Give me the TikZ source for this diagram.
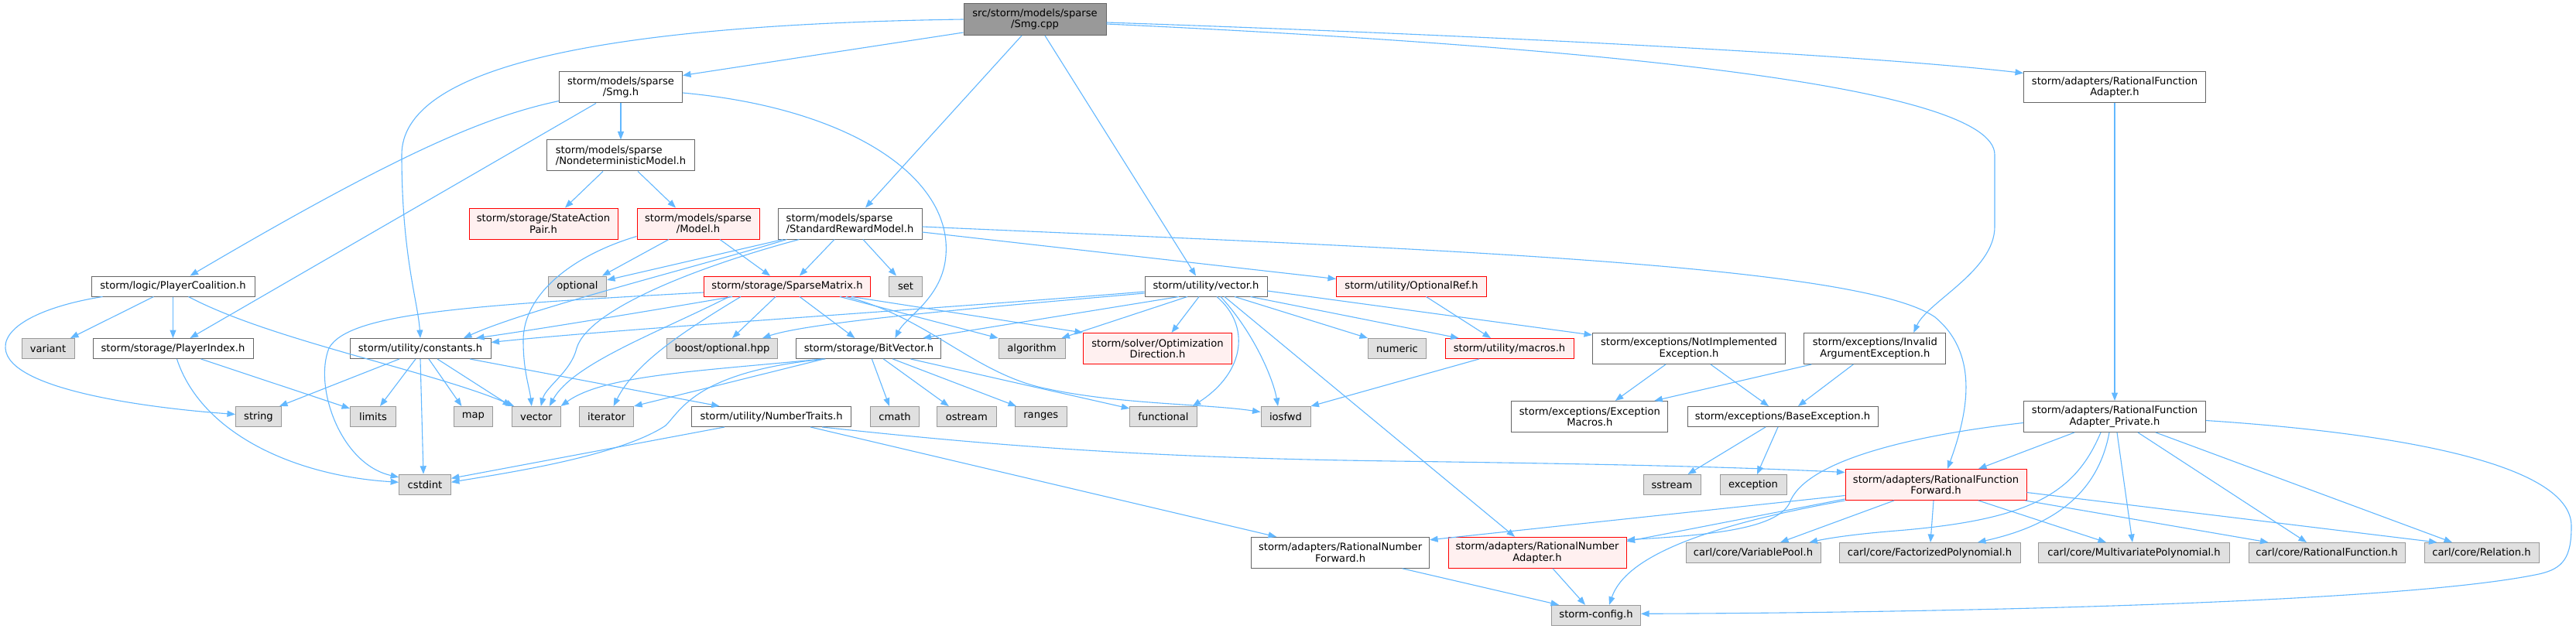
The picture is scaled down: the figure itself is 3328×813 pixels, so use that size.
\documentclass[tikz,border=0pt]{standalone}
\usepackage{fontspec}
\setmainfont{DejaVu Sans}
\usetikzlibrary{arrows.meta,calc}
\definecolor{edgeblue}{HTML}{63B8FF}
\definecolor{bordgray}{HTML}{666666}
\definecolor{extfill}{HTML}{E0E0E0}
\definecolor{extbord}{HTML}{999999}
\definecolor{redfill}{HTML}{FFF0F0}
\definecolor{rootfill}{HTML}{999999}
\begin{document}
\begin{tikzpicture}[x=1pt,y=-1pt,
  box/.style={draw, line width=1pt, inner xsep=3pt, inner ysep=2pt, minimum height=26pt,
    font=\fontsize{13.1}{14.6}\selectfont, align=center, text=black},
  nwhite/.style={box, fill=white, draw=bordgray},
  nred/.style={box, fill=redfill, draw=red},
  ngray/.style={box, fill=extfill, draw=extbord},
  nroot/.style={box, fill=rootfill, draw=bordgray},
  twol/.style={minimum height=40pt},
  dep/.style={draw=edgeblue, line width=1.1pt, -{Triangle[length=10.5pt,width=8pt]}}
]
\useasboundingbox (0,0) rectangle (3328,813);
\fill[white] (0,0) rectangle (3328,813);

% nodes
\node[nroot, twol, minimum width=184pt, minimum height=41pt] (root) at (1337,25) {src/storm/models/sparse\\/Smg.cpp};
\node[nwhite, twol, minimum width=159pt] (smgh) at (802,113) {storm/models/sparse\\/Smg.h};
\node[nwhite, twol, minimum width=235pt] (rfa) at (2732,113) {storm/adapters/RationalFunction\\Adapter.h};
\node[nwhite, twol, minimum width=191pt, align=left] (ndm) at (802,201) {storm/models/sparse\\/NondeterministicModel.h};
\node[nred, twol, minimum width=192pt] (sap) at (702,289) {storm/storage/StateAction\\Pair.h};
\node[nred, twol, minimum width=158pt] (model) at (902,289) {storm/models/sparse\\/Model.h};
\node[nwhite, twol, minimum width=186pt, align=left] (srm) at (1098,289) {storm/models/sparse\\/StandardRewardModel.h};

\node[nwhite, minimum width=211pt] (pc) at (223.5,370) {storm/logic/PlayerCoalition.h};
\node[ngray, minimum width=75pt] (optional) at (746,370) {optional};
\node[nred, minimum width=215pt] (sm) at (1017,370) {storm/storage/SparseMatrix.h};
\node[ngray, minimum width=43pt] (set) at (1170,370) {set};
\node[nwhite, minimum width=158pt] (vech) at (1558,370) {storm/utility/vector.h};
\node[nred, minimum width=194pt] (oref) at (1823.5,370) {storm/utility/OptionalRef.h};

\node[ngray, minimum width=68pt] (variant) at (62,450.5) {variant};
\node[nwhite, minimum width=207pt] (pi) at (223.5,450.5) {storm/storage/PlayerIndex.h};
\node[nwhite, minimum width=182pt] (const) at (543,450.5) {storm/utility/constants.h};
\node[ngray, minimum width=143pt] (boostopt) at (933,450.5) {boost/optional.hpp};
\node[nwhite, minimum width=187pt] (bv) at (1122.4,450.5) {storm/storage/BitVector.h};
\node[ngray, minimum width=86pt] (algorithm) at (1333,450.5) {algorithm};
\node[nred, twol, minimum width=192pt] (optdir) at (1495.5,450.5) {storm/solver/Optimization\\Direction.h};
\node[ngray, minimum width=75pt] (numeric) at (1805,450.5) {numeric};
\node[nred, minimum width=166pt] (macros) at (1950,450.5) {storm/utility/macros.h};
\node[nwhite, twol, minimum width=249pt] (nie) at (2182,450.5) {storm/exceptions/NotImplemented\\Exception.h};
\node[nwhite, twol, minimum width=183pt] (iae) at (2422.3,450.5) {storm/exceptions/Invalid\\ArgumentException.h};

\node[ngray, minimum width=59pt] (string) at (334,538.5) {string};
\node[ngray, minimum width=59pt] (limits) at (482,538.5) {limits};
\node[ngray, minimum width=50pt] (map) at (611.4,538.5) {map};
\node[ngray, minimum width=62.5pt] (vector) at (692.8,538.5) {vector};
\node[ngray, minimum width=70pt] (iterator) at (783.6,538.5) {iterator};
\node[nwhite, minimum width=206pt] (nt) at (996.6,538.5) {storm/utility/NumberTraits.h};
\node[ngray, minimum width=62.7pt] (cmath) at (1156,538.5) {cmath};
\node[ngray, minimum width=76.5pt] (ostream) at (1248.8,538.5) {ostream};
\node[ngray, minimum width=66.6pt] (ranges) at (1344.8,538.5) {ranges};
\node[ngray, minimum width=86.5pt] (functional) at (1503,538.5) {functional};
\node[ngray, minimum width=64pt] (iosfwd) at (1661,538.5) {iosfwd};
\node[nwhite, twol, minimum width=202pt] (em) at (2053.8,538.5) {storm/exceptions/Exception\\Macros.h};
\node[nwhite, minimum width=246pt] (be) at (2303,538.5) {storm/exceptions/BaseException.h};
\node[nwhite, twol, minimum width=235pt] (rfap) at (2732,538.5) {storm/adapters/RationalFunction\\Adapter\_Private.h};

\node[ngray, minimum width=66.7pt] (cstdint) at (549,626.3) {cstdint};
\node[ngray, minimum width=74pt] (sstream) at (2160,626.5) {sstream};
\node[ngray, minimum width=86pt] (exception) at (2265,626.5) {exception};
\node[nred, twol, minimum width=234pt] (rff) at (2501,626.5) {storm/adapters/RationalFunction\\Forward.h};

\node[nwhite, twol, minimum width=230pt] (rnf) at (1731.6,714.3) {storm/adapters/RationalNumber\\Forward.h};
\node[nred, twol, minimum width=230pt] (rna) at (1986,714.3) {storm/adapters/RationalNumber\\Adapter.h};
\node[ngray, minimum width=174pt] (vp) at (2265,714.5) {carl/core/VariablePool.h};
\node[ngray, minimum width=234pt] (fp) at (2493,714.5) {carl/core/FactorizedPolynomial.h};
\node[ngray, minimum width=246.5pt] (mp) at (2757,714.5) {carl/core/MultivariatePolynomial.h};
\node[ngray, minimum width=202pt] (rf) at (3006,714.5) {carl/core/RationalFunction.h};
\node[ngray, minimum width=148pt] (rel) at (3206,714.5) {carl/core/Relation.h};

\node[ngray, minimum width=115pt] (scfg) at (2062,795.3) {storm-config.h};

% edges from root
\draw[dep] ($(root.south west)+(0,-4)$) -- ($(smgh.north east)+(0,5)$);
\draw[dep] (root.west) .. controls (760,32) and (519,90) .. (519,200) .. controls (519,330) and (540,390) .. (const.north);
\draw[dep] ($(root.south)+(-17,0)$) -- ($(srm.north)+(20,0)$);
\draw[dep] ($(root.south)+(13,0)$) -- ($(vech.north)+(-13,0)$);
\draw[dep] ($(root.east)+(0,4)$) .. controls (1900,45) and (2400,70) .. ($(rfa.north west)+(0,2)$);
\draw[dep] ($(root.east)+(0,6)$) .. controls (2050,60) and (2577,110) .. (2577,200) -- (2577,293) .. controls (2577,350) and (2490,390) .. ($(iae.north)+(50,0)$);

% Smg.h
\draw[dep] (smgh) -- (ndm);
\draw[dep] ($(smgh.south west)+(0,-3)$) .. controls (630,150) and (520,195) .. ($(pc.north)+(22,0)$);
\draw[dep] ($(smgh.south)+(-32,0)$) -- ($(pi.north)+(22,0)$);
\draw[dep] ($(smgh.east)+(0,7)$) .. controls (1100,140) and (1230,230) .. (1222,330) .. controls (1218,385) and (1170,410) .. ($(bv.north)+(34,0)$);

% NondeterministicModel
\draw[dep] ($(ndm.south)+(-23,0)$) -- ($(sap.north)+(28,0)$);
\draw[dep] ($(ndm.south)+(22,0)$) -- ($(model.north)+(-29,0)$);

% Model
\draw[dep] ($(model.south)+(-38,0)$) -- ($(optional.north east)+(-6,0)$);
\draw[dep] ($(model.south)+(28,0)$) -- ($(sm.north)+(-22,0)$);
\draw[dep] ($(model.south west)+(0,-4)$) .. controls (740,330) and (676,380) .. (676,440) .. controls (676,480) and (684,500) .. ($(vector.north)+(-6,0)$);

% StandardRewardModel
\draw[dep] ($(srm.south west)+(7,0)$) -- ($(optional.east)+(0,-8)$);
\draw[dep] ($(srm.south west)+(12,0)$) .. controls (900,345) and (680,400) .. ($(const.north)+(56,0)$);
\draw[dep] ($(srm.south west)+(28,0)$) .. controls (900,345) and (760,400) .. (745,450) .. controls (738,480) and (705,500) .. ($(vector.north)+(6,0)$);
\draw[dep] ($(srm.south)+(-20,0)$) -- ($(sm.north)+(16,0)$);
\draw[dep] ($(srm.south)+(17,0)$) -- ($(set.north)+(-12,0)$);
\draw[dep] ($(srm.east)+(0,11)$) -- ($(oref.north west)+(0,4)$);
\draw[dep] ($(srm.east)+(0,4)$) .. controls (1800,320) and (2400,340) .. (2500,410) .. controls (2560,460) and (2540,540) .. ($(rff.north)+(15,0)$);

% PlayerCoalition
\draw[dep] ($(pc.south)+(-25,0)$) -- ($(variant.north)+(29,0)$);
\draw[dep] (pc) -- (pi);
\draw[dep] ($(pc.south west)+(15,0)$) .. controls (60,395) and (5,420) .. (7,450) .. controls (10,505) and (200,528) .. ($(string.west)+(0,-3)$);
\draw[dep] ($(pc.south)+(20,0)$) .. controls (350,440) and (560,480) .. ($(vector.north west)+(3,0)$);

% PlayerIndex
\draw[dep] ($(pi.south)+(36,0)$) -- ($(limits.north west)+(0,3)$);
\draw[dep] ($(pi.south)+(5,0)$) .. controls (260,560) and (380,615) .. ($(cstdint.west)+(0,-3)$);

% constants
\draw[dep] ($(const.south)+(-27,0)$) -- ($(string.north east)+(-3,0)$);
\draw[dep] ($(const.south)+(-6,0)$) -- ($(limits.north)+(9,0)$);
\draw[dep] (const.south) -- ($(cstdint.north)+(-2,0)$);
\draw[dep] ($(const.south)+(11,0)$) -- ($(map.north)+(-15,0)$);
\draw[dep] ($(const.south)+(22,0)$) -- ($(vector.north west)+(-1,0)$);
\draw[dep] ($(const.south)+(64,0)$) -- ($(nt.north)+(-67,0)$);

% SparseMatrix
\draw[dep] ($(sm.south)+(-71,0)$) .. controls (850,400) and (700,425) .. ($(const.north)+(72,0)$);
\draw[dep] ($(sm.west)+(0,8)$) .. controls (600,395) and (450,405) .. (425,450) .. controls (405,500) and (440,600) .. ($(cstdint.north west)+(0,4)$);
\draw[dep] ($(sm.south)+(-75,0)$) .. controls (850,430) and (740,470) .. ($(vector.north)+(17,0)$);
\draw[dep] ($(sm.south)+(-60,0)$) .. controls (880,430) and (820,470) .. ($(iterator.north)+(9,0)$);
\draw[dep] ($(sm.south)+(-15,0)$) -- ($(boostopt.north)+(13,0)$);
\draw[dep] ($(sm.south)+(16,0)$) -- ($(bv.north)+(-18,0)$);
\draw[dep] ($(sm.south east)+(-40,0)$) -- (algorithm.north west);
\draw[dep] ($(sm.south east)+(-25,0)$) -- (optdir.north west);
\draw[dep] ($(sm.south east)+(-32,0)$) .. controls (1200,410) and (1260,485) .. (1355,503) .. controls (1450,523) and (1560,522) .. ($(iosfwd.west)+(0,-6)$);

% vector.h
\draw[dep] ($(vech.west)+(0,7)$) .. controls (1200,400) and (800,425) .. ($(const.east)+(0,-8)$);
\draw[dep] ($(vech.west)+(0,9)$) .. controls (1300,395) and (1050,415) .. ($(boostopt.north east)+(-20,0)$);
\draw[dep] ($(vech.south)+(-35,0)$) -- ($(bv.north east)+(-24,0)$);
\draw[dep] ($(vech.south)+(-24,0)$) -- ($(algorithm.north east)+(-5,0)$);
\draw[dep] ($(vech.south)+(-9,0)$) -- ($(optdir.north)+(18,0)$);
\draw[dep] ($(vech.south)+(14,0)$) .. controls (1615,420) and (1610,480) .. ($(functional.north east)+(-6,0)$);
\draw[dep] ($(vech.south)+(19,0)$) .. controls (1620,430) and (1645,490) .. ($(iosfwd.north)+(-10,0)$);
\draw[dep] ($(vech.south)+(24,0)$) -- ($(rna.north)+(-29,0)$);
\draw[dep] ($(vech.south)+(37,0)$) -- (numeric.north west);
\draw[dep] ($(vech.south east)+(-22,0)$) -- ($(macros.north west)+(18,0)$);
\draw[dep] ($(vech.east)+(0,6)$) -- ($(nie.north west)+(0,3)$);

% OptionalRef, macros
\draw[dep] ($(oref.south)+(19,0)$) -- ($(macros.north)+(-24,0)$);
\draw[dep] ($(macros.south)+(-39,0)$) -- (iosfwd.north east);

% BitVector
\draw[dep] ($(bv.south west)+(34,0)$) .. controls (900,480) and (780,485) .. (vector.north east);
\draw[dep] ($(bv.south west)+(36,0)$) -- (iterator.north east);
\draw[dep] ($(bv.south west)+(38,0)$) .. controls (900,480) and (880,530) .. (860,550) .. controls (800,590) and (650,612) .. ($(cstdint.east)+(0,-3)$);
\draw[dep] ($(bv.south)+(4,0)$) -- ($(cmath.north)+(-7,0)$);
\draw[dep] ($(bv.south)+(19,0)$) -- ($(ostream.north)+(-23,0)$);
\draw[dep] ($(bv.south)+(31,0)$) -- ($(ranges.north west)+(2,0)$);
\draw[dep] ($(bv.south)+(54,0)$) -- ($(functional.north west)+(0,3)$);

% NumberTraits
\draw[dep] ($(nt.south west)+(43,0)$) -- ($(cstdint.east)+(0,-8)$);
\draw[dep] ($(nt.south east)+(-53,0)$) -- ($(rnf.north west)+(33,0)$);
\draw[dep] ($(nt.south east)+(-38,0)$) .. controls (1300,578) and (1500,592) .. (1800,596) .. controls (2100,600) and (2250,604) .. ($(rff.west)+(0,-16)$);

% exceptions
\draw[dep] ($(nie.south)+(-30,0)$) -- ($(em.north)+(33,0)$);
\draw[dep] ($(nie.south)+(28,0)$) -- ($(be.north)+(-18,0)$);
\draw[dep] ($(iae.south west)+(10,0)$) -- ($(em.north east)+(-18,0)$);
\draw[dep] ($(iae.south)+(-28,0)$) -- ($(be.north)+(20,0)$);
\draw[dep] ($(be.south)+(-22,0)$) -- ($(sstream.north east)+(-17,0)$);
\draw[dep] ($(be.south)+(-6,0)$) -- ($(exception.north)+(5,0)$);

% RationalFunction adapters
\draw[dep] (rfa) -- (rfap);
\draw[dep] ($(rfap.south)+(-52,0)$) -- ($(rff.north)+(55,0)$);
\draw[dep] ($(rfap.south)+(-18,0)$) .. controls (2680,640) and (2620,672) .. (2450,686) .. controls (2400,690) and (2365,695) .. ($(vp.north east)+(-15,0)$);
\draw[dep] ($(rfap.south)+(-7,0)$) .. controls (2710,640) and (2650,680) .. ($(fp.north)+(62,0)$);
\draw[dep] ($(rfap.south)+(3,0)$) -- ($(mp.north)+(-2,0)$);
\draw[dep] ($(rfap.south)+(30,0)$) -- ($(rf.north)+(-26,0)$);
\draw[dep] ($(rfap.south east)+(-65,0)$) -- ($(rel.north)+(-38,0)$);
\draw[dep] ($(rfap.east)+(0,5)$) .. controls (3100,560) and (3322,600) .. (3322,680) .. controls (3322,720) and (3312,735) .. (3280,742) .. controls (3100,780) and (2500,792) .. ($(scfg.east)+(0,-2)$);
\draw[dep] ($(rfap.west)+(0,8)$) .. controls (2450,565) and (2330,600) .. (2312,650) .. controls (2295,685) and (2200,692) .. ($(rna.north east)+(0,4)$);

\draw[dep] ($(rff.south)+(-54,0)$) -- ($(vp.north)+(35,0)$);
\draw[dep] ($(rff.south)+(-3,0)$) -- ($(fp.north)+(1,0)$);
\draw[dep] ($(rff.south)+(55,0)$) -- ($(mp.north)+(-36,0)$);
\draw[dep] ($(rff.south east)+(-2,0)$) -- ($(rf.north west)+(26,0)$);
\draw[dep] ($(rff.east)+(0,10)$) -- ($(rel.north west)+(17,0)$);
\draw[dep] ($(rff.west)+(0,14)$) -- ($(rnf.north east)+(0,4)$);
\draw[dep] ($(rff.south west)+(0,-2)$) -- ($(rna.north east)+(0,6)$);
\draw[dep] (rff.south west) .. controls (2200,680) and (2100,720) .. ($(scfg.north)+(17,0)$);

\draw[dep] ($(rnf.south)+(80,0)$) -- ($(scfg.north west)+(10,0)$);
\draw[dep] ($(rna.south)+(20,0)$) -- ($(scfg.north)+(-14,0)$);
\end{tikzpicture}
\end{document}
